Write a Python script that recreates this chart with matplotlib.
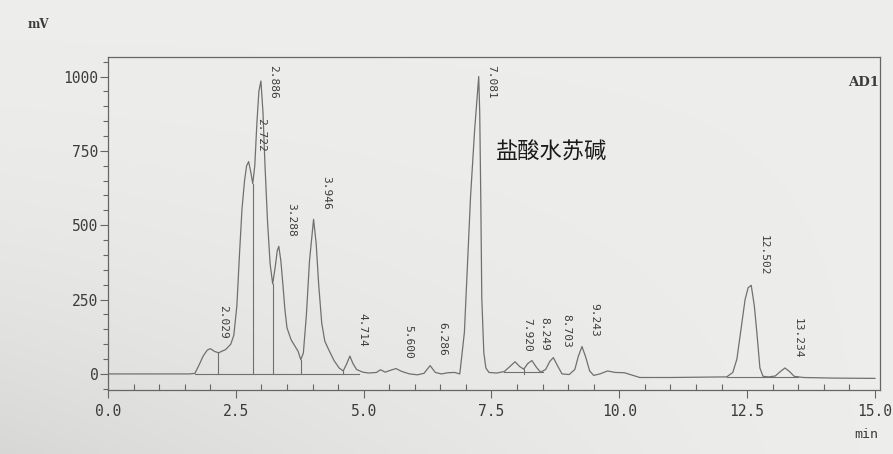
import matplotlib
matplotlib.use("Agg")
import matplotlib.pyplot as plt
import numpy as np
from matplotlib.ticker import MultipleLocator

# traced chromatogram (time in min, signal in mV)
t = [0.00, 1.60, 1.70, 1.78, 1.86, 1.94, 2.00, 2.08, 2.16, 2.30, 2.40, 2.46, 2.52, 2.57,
     2.62, 2.67, 2.71, 2.75, 2.79, 2.83, 2.87, 2.91, 2.95, 2.99, 3.03, 3.07, 3.12, 3.17,
     3.22, 3.27, 3.31, 3.34, 3.38, 3.42, 3.46, 3.50, 3.58, 3.66, 3.72, 3.77, 3.82, 3.88,
     3.94, 4.02, 4.07, 4.12, 4.18, 4.24, 4.32, 4.42, 4.52, 4.60, 4.67, 4.73, 4.79, 4.86,
     4.98, 5.10, 5.25, 5.33, 5.42, 5.52, 5.63, 5.75, 5.90, 6.05, 6.18, 6.30, 6.40, 6.52,
     6.65, 6.78, 6.88, 6.97, 7.03, 7.09, 7.17, 7.25, 7.27, 7.29, 7.31, 7.35, 7.39, 7.45,
     7.60, 7.75, 7.86, 7.96, 8.05, 8.13, 8.21, 8.29, 8.38, 8.46, 8.56, 8.64, 8.71, 8.79,
     8.88, 9.02, 9.13, 9.20, 9.27, 9.34, 9.42, 9.50, 9.62, 9.77, 9.92, 10.10, 10.25, 10.40,
     11.00, 12.10, 12.22, 12.30, 12.38, 12.46, 12.52, 12.58, 12.64, 12.69, 12.75, 12.81,
     12.92, 13.05, 13.15, 13.24, 13.33, 13.42, 13.60, 14.20, 15.00]
mv = [0, 0, 2, 30, 60, 80, 85, 76, 71, 82, 100, 130, 230, 400,
      555, 650, 700, 714, 680, 640, 700, 840, 950, 985, 880, 700, 510, 370,
      303, 360, 415, 429, 380, 300, 215, 155, 115, 92, 75, 48, 70, 200,
      380, 520, 440, 300, 170, 110, 80, 45, 20, 10, 35, 60, 35, 15,
      6, 3, 5, 14, 6, 12, 18, 8, 0, -3, 2, 28, 5, 0,
      4, 5, 0, 140, 367, 595, 820, 1000, 877, 595, 255, 71, 20, 5,
      3, 8, 25, 41, 25, 16, 35, 45, 22, 6, 15, 42, 55, 28,
      0, -2, 15, 60, 92, 58, 10, -5, 0, 10, 5, 4, -4, -12,
      -12, -10, 5, 50, 150, 250, 290, 298, 230, 140, 20, -8,
      -10, -7, 8, 20, 8, -8, -12, -14, -15]

# peak table: label, apex time, apex height
peak_labels = ['2.029', '2.722', '2.886', '3.288', '3.946', '4.714', '5.600', '6.286',
               '7.081', '7.920', '8.249', '8.703', '9.243', '12.502', '13.234']
peak_t = [2.00, 2.75, 2.99, 3.34, 4.02, 4.73, 5.63, 6.30,
          7.25, 7.96, 8.29, 8.71, 9.27, 12.58, 13.24]
peak_h = [85, 714, 985, 429, 520, 60, 18, 28,
          1000, 41, 45, 55, 92, 298, 20]

# drop lines between unresolved peaks
drop_t = [2.16, 2.83, 3.22, 3.77, 4.60, 8.13]
drop_h = [71, 640, 303, 48, 10, 16]

# integration baselines (start, end, level)
base_start = [1.70, 7.75, 12.10]
base_end = [4.90, 8.50, 13.50]
base_level = [0, 8, -10]

xticks = [0.0, 2.5, 5.0, 7.5, 10.0, 12.5, 15.0]
yticks = [0, 250, 500, 750, 1000]

ink = '#3c3c3c'
trace = '#707070'

fig = plt.figure(figsize=(8.93, 4.54), dpi=100)

# paper shading of the photo: lighter top/right, darker bottom-left
bgax = fig.add_axes([0, 0, 1, 1], zorder=-5)
u = np.linspace(0, 1, 200)[None, :]
v = np.linspace(0, 1, 100)[:, None]
shade = 0.93 - 0.085 * (1 - u) ** 1.5 * v ** 2
bgax.imshow(np.dstack([shade, shade, shade * 0.995]), aspect='auto',
            extent=[0, 1, 1, 0], interpolation='bilinear')
bgax.set_axis_off()

ax = fig.add_axes([0.121, 0.141, 0.8645, 0.733])
ax.patch.set_alpha(0)

ax.plot(t, mv, color=trace, lw=0.9)
for s, e, lv in zip(base_start, base_end, base_level):
    ax.plot([s, e], [lv, lv], color=trace, lw=0.8)
for dt, dh in zip(drop_t, drop_h):
    ax.plot([dt, dt], [0, dh], color=trace, lw=0.8)

for lbl, pt, ph in zip(peak_labels, peak_t, peak_h):
    if ph > 900:
        ax.annotate(lbl, xy=(pt, 1040), xytext=(9, 0), textcoords='offset points',
                    rotation=-90, ha='center', va='top', fontsize=8,
                    family='DejaVu Sans Mono', color=ink)
    else:
        ax.annotate(lbl, xy=(pt, ph), xytext=(9, 7), textcoords='offset points',
                    rotation=-90, ha='center', va='bottom', fontsize=8,
                    family='DejaVu Sans Mono', color=ink)

ax.text(7.58, 745, '盐酸水苏碱', fontsize=16, family=['Noto Sans CJK SC', 'DejaVu Sans'],
        color='#1a1a1a', va='center', ha='left')
ax.text(0.999, 0.925, 'AD1', transform=ax.transAxes, ha='right', va='center',
        fontsize=9.5, family='DejaVu Serif', fontweight='bold', color=ink)

ax.set_xlim(0, 15.1)
ax.set_ylim(-54, 1065)
ax.set_xticks(xticks)
ax.set_xticklabels(['%.1f' % v for v in xticks])
ax.set_yticks(yticks)
ax.xaxis.set_minor_locator(MultipleLocator(0.5))
ax.yaxis.set_minor_locator(MultipleLocator(50))
ax.tick_params(axis='x', which='major', direction='out', length=6, width=0.8, pad=4,
               colors='#666666', labelcolor=ink, labelsize=10.5)
ax.tick_params(axis='x', which='minor', direction='in', length=4, width=0.8, colors='#666666')
ax.tick_params(axis='y', which='major', direction='out', length=6, width=0.8, pad=1,
               colors='#666666', labelcolor=ink, labelsize=10.5)
ax.tick_params(axis='y', which='minor', direction='out', length=3.5, width=0.8, colors='#666666')
for lab in ax.get_xticklabels() + ax.get_yticklabels():
    lab.set_family('DejaVu Sans Mono')
for sp in ax.spines.values():
    sp.set_color('#666666')
    sp.set_linewidth(0.9)

fig.text(38 / 893, 1 - 24 / 454, 'mV', fontsize=8.5, family='DejaVu Serif',
         fontweight='bold', color=ink, ha='center', va='center')
fig.text(866 / 893, 1 - 434 / 454, 'min', fontsize=9.5, family='DejaVu Sans Mono',
         color=ink, ha='center', va='center')

fig.savefig('out.png', dpi=100)
